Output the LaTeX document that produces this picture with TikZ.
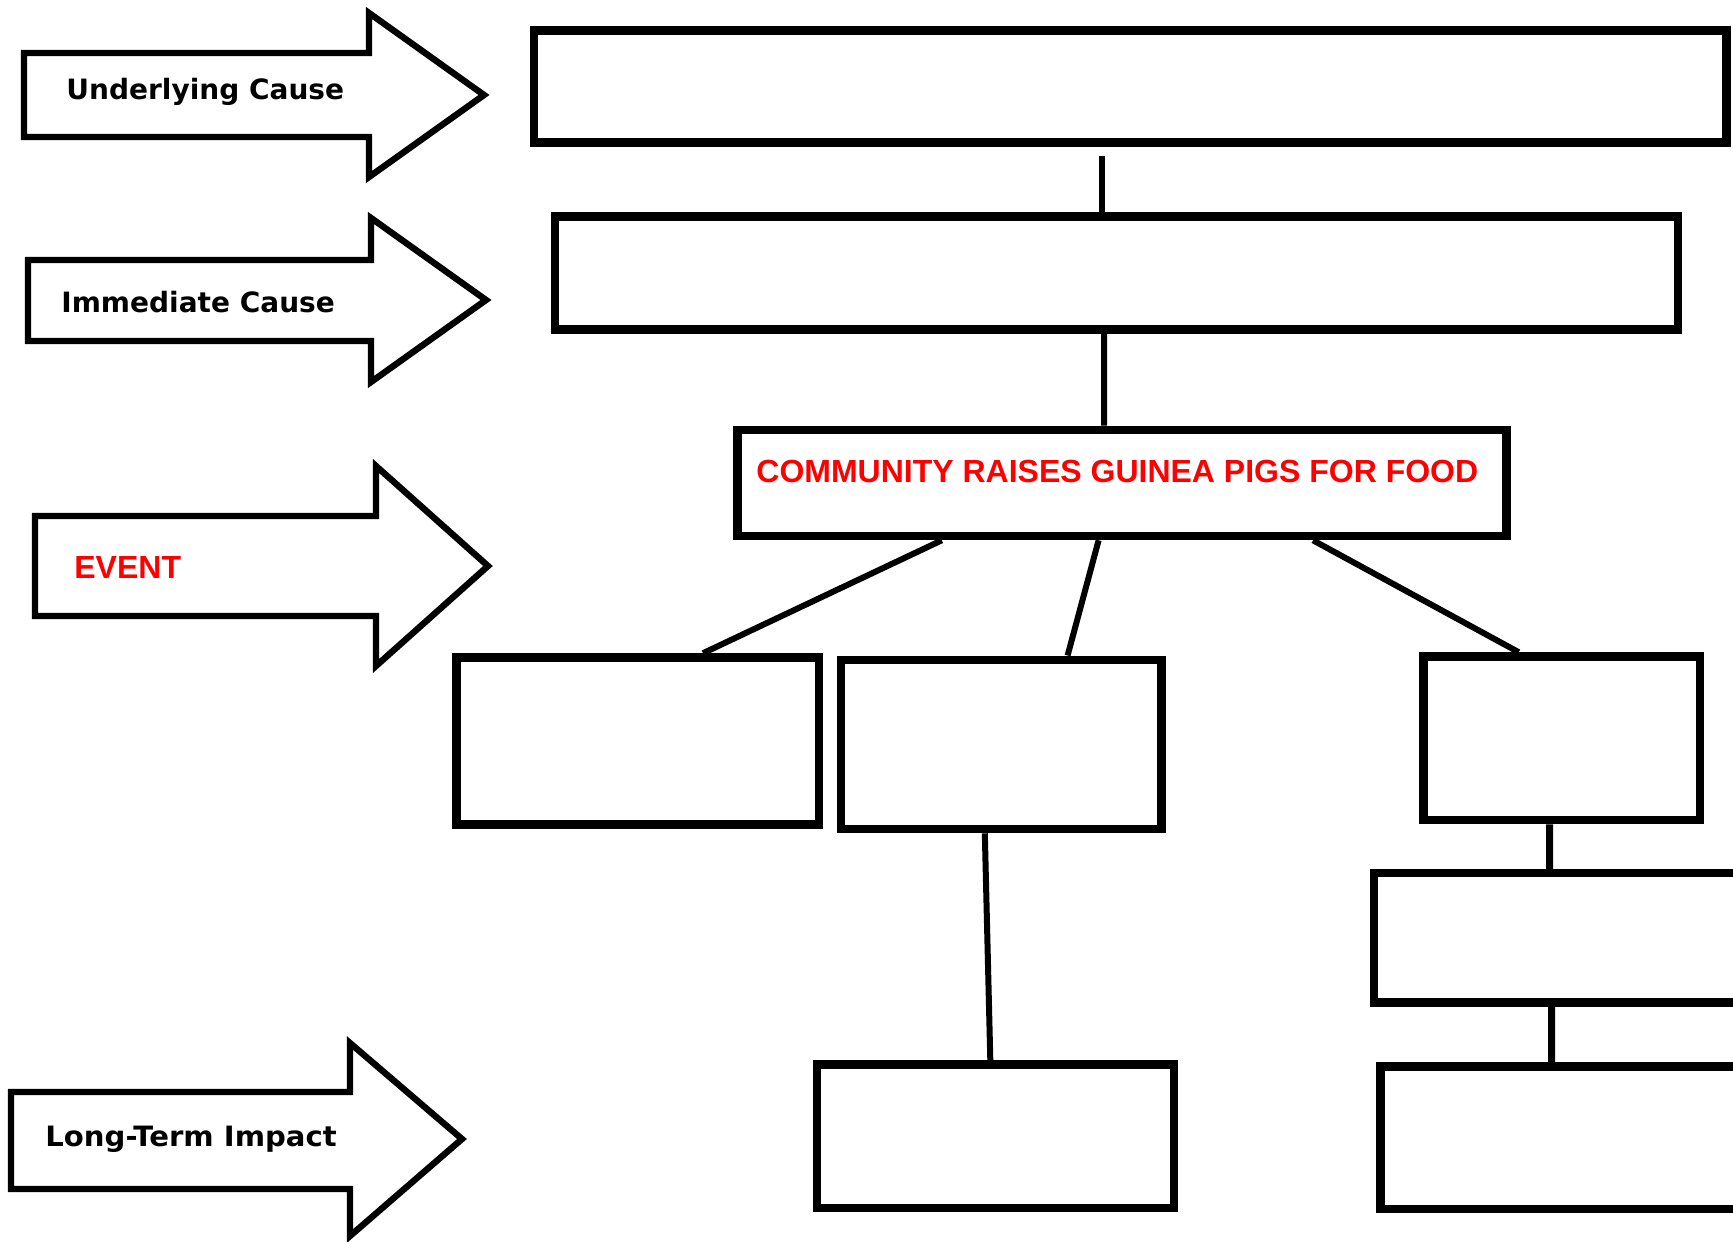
\documentclass[tikz,border=0pt]{standalone}
\usepackage{fontspec}
\newfontfamily\labelfont{DejaVu Sans}
\newfontfamily\headfont{Liberation Sans}
\usetikzlibrary{calc}
\begin{document}
\begin{tikzpicture}[x=0.5pt,y=-0.5pt,
  box/.style={draw=black,line width=4.3pt,fill=white,inner sep=0pt},
  banner/.style={draw=black,line width=3.2pt,fill=white,line join=miter},
  bannertext/.style={anchor=base west,inner sep=0pt,font=\labelfont\bfseries\fontsize{14pt}{16pt}\selectfont},
  redtext/.style={anchor=base west,inner sep=0pt,text=red,font=\headfont\bfseries\fontsize{16pt}{18pt}\selectfont},
  link/.style={draw=black,line width=3pt}]
\useasboundingbox (0,0) rectangle (1733,1241);

% side banners
\draw[banner] (24,53) -- (369,53) -- (369,13) -- (484,95) -- (369,177) -- (369,137) -- (24,137) -- cycle;
\node[bannertext] (tu) at (66,100) {Underlying Cause};
\draw[banner] (28,260) -- (371,260) -- (371,218) -- (486,300) -- (371,382) -- (371,341) -- (28,341) -- cycle;
\node[bannertext] (ti) at (61,312) {Immediate Cause};
\draw[banner] (35,516) -- (376,516) -- (376,466) -- (488,566) -- (376,666) -- (376,616) -- (35,616) -- cycle;
\node[redtext] (te) at (74,578) {EVENT};
\draw[banner] (11,1092) -- (350,1092) -- (350,1043) -- (462,1139) -- (350,1236) -- (350,1189) -- (11,1189) -- cycle;
\node[bannertext,xscale=1.04] (tl) at (45,1146) {Long-Term Impact};

% boxes
\node[box,minimum width=596.3pt,minimum height=56pt] (b1) at (1130.1,86.6) {};
\node[box,minimum width=561.5pt,minimum height=56.4pt] (b2) at (1116.3,273) {};
\node[box,minimum width=384.6pt,minimum height=53pt] (ev) at (1121.8,483) {};
\node[redtext] (evt) at (756,482) {COMMUNITY RAISES GUINEA PIGS FOR FOOD};
\node[box,minimum width=181.3pt,minimum height=83.5pt] (l1) at (637.8,741) {};
\node[box,minimum width=160.3pt,minimum height=84.6pt] (l2) at (1001.4,744.4) {};
\node[box,minimum width=138.2pt,minimum height=81.8pt] (r1) at (1561.7,738.3) {};
\node[box,minimum width=186.1pt,minimum height=64.7pt] (r2) at (1559.9,937.8) {};
\node[box,minimum width=182.8pt,minimum height=71.3pt] (r3) at (1563.2,1137.8) {};
\node[box,minimum width=178.5pt,minimum height=71.9pt] (lb) at (995.3,1136.2) {};

% connectors
\draw[link,shorten <=4.5pt] ([xshift=-14.1pt]b1.south) -- ([xshift=-7.2pt]b2.north);
\draw[link] ([xshift=-6.1pt]b2.south) -- ([xshift=-8.9pt]ev.north);
\draw[link] ([xshift=-90pt]ev.south) -- ([xshift=32.6pt]l1.north);
\draw[link] ([xshift=-11.6pt]ev.south) -- ([xshift=33.1pt]l2.north);
\draw[link] ([xshift=95.6pt]ev.south) -- ([xshift=-21.5pt]r1.north);
\draw[link,line width=3.5pt] ([xshift=-6.1pt]r1.south) -- ([xshift=-5.2pt]r2.north);
\draw[link,line width=3.5pt] ([xshift=-4.1pt]r2.south) -- ([xshift=-5.8pt]r3.north);
\draw[link] ([xshift=-8.3pt]l2.south) -- ([xshift=-2.5pt]lb.north);
\end{tikzpicture}
\end{document}
